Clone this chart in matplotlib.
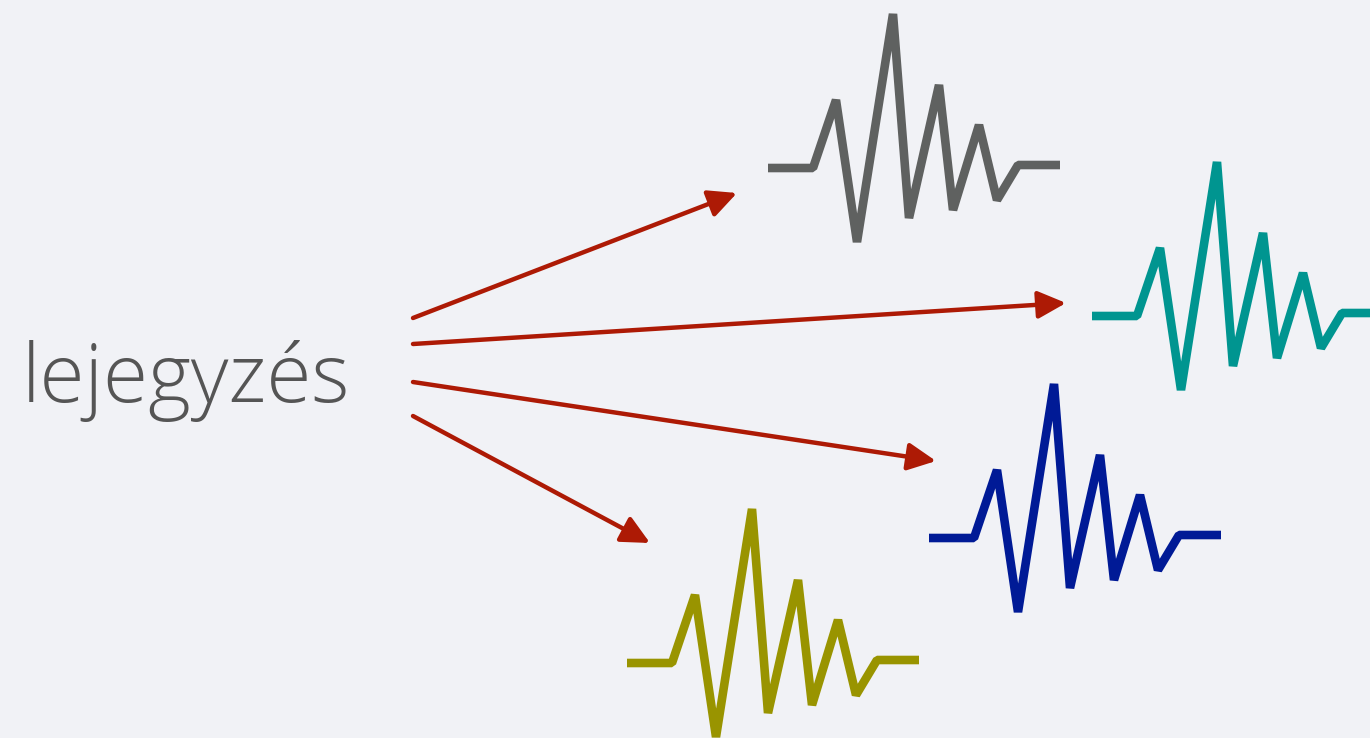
import numpy as np
import matplotlib.pyplot as plt

# waveform shape (pixels, relative to its left end; dy positive = up)
wave_dx = [0, 45, 68, 89, 125, 141, 171, 185, 211, 229, 250, 292]
wave_dy = [0, 0, 68, -74, 154, -50, 83, -42, 43, -32, 3, 3]

# left end of each waveform and its colour
wave_x0 = [768, 1092, 929, 627]
wave_y0 = [168, 316, 538, 663]
wave_colors = ["#5f6160", "#009590", "#001a96", "#999400"]

# arrows: start and tip
arrow_start = [(413, 318), (413, 344), (413, 382), (413, 416)]
arrow_end = [(737, 193), (1066, 303), (936, 461), (650, 543)]

label = "lejegyzés"

W, H = 1370, 738
fig = plt.figure(figsize=(W / 100, H / 100), dpi=100)
fig.patch.set_facecolor("#f1f2f6")
ax = fig.add_axes([0, 0, 1, 1])
ax.set_facecolor("#f1f2f6")
ax.set_xlim(0, W)
ax.set_ylim(H, 0)
ax.axis("off")

dx = np.array(wave_dx)
dy = np.array(wave_dy)
for x0, y0, c in zip(wave_x0, wave_y0, wave_colors):
    ax.plot(x0 + dx, y0 - dy, color=c, lw=6.2,
            solid_joinstyle="bevel", solid_capstyle="butt")

for (xs, ys), (xe, ye) in zip(arrow_start, arrow_end):
    ax.annotate("", xy=(xe, ye), xytext=(xs, ys),
                arrowprops=dict(arrowstyle="-|>,head_length=0.45,head_width=0.22",
                                mutation_scale=38, color="#ad1a05", lw=3.2,
                                shrinkA=0, shrinkB=0))

ax.text(22, 402, label, fontsize=59, color="#555555",
        family=["Open Sans", "DejaVu Sans"], fontweight="light",
        ha="left", va="baseline")

fig.savefig("out.png", dpi=100, facecolor=fig.get_facecolor())
